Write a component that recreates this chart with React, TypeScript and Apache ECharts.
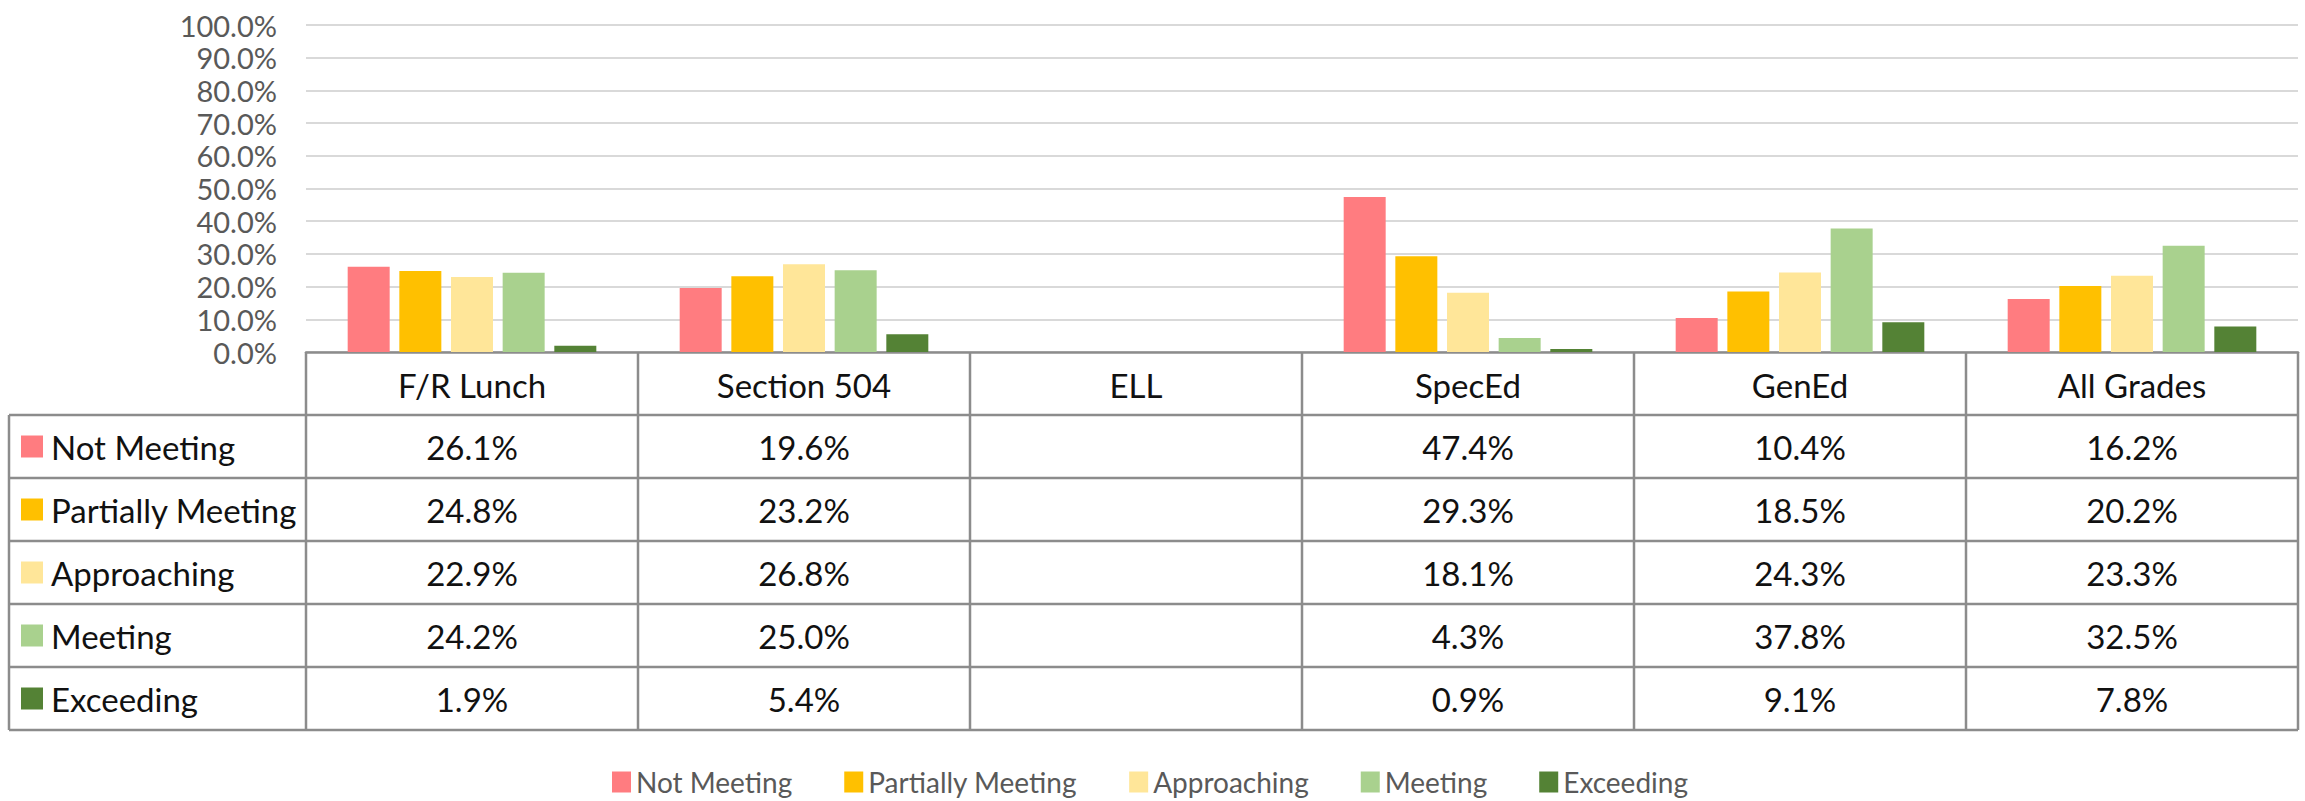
import React, { useEffect, useRef } from "react";
import * as echarts from "echarts";

const categories = ["F/R Lunch", "Section 504", "ELL", "SpecEd", "GenEd", "All Grades"];
const seriesNames = ["Not Meeting", "Partially Meeting", "Approaching", "Meeting", "Exceeding"];
const notMeeting = [26.1, 19.6, null, 47.4, 10.4, 16.2];
const partiallyMeeting = [24.8, 23.2, null, 29.3, 18.5, 20.2];
const approaching = [22.9, 26.8, null, 18.1, 24.3, 23.3];
const meeting = [24.2, 25.0, null, 4.3, 37.8, 32.5];
const exceeding = [1.9, 5.4, null, 0.9, 9.1, 7.8];
const seriesValues = [notMeeting, partiallyMeeting, approaching, meeting, exceeding];
const colors = ["#FF7C80", "#FFC000", "#FFE699", "#A9D18E", "#548235"];

const FONT = 'Lato, "Open Sans", sans-serif';
const LINE = "#8c8c8c";

export default function App() {
  const ref = useRef<HTMLDivElement>(null);
  useEffect(() => {
    if (!ref.current) return;
    const chart = echarts.init(ref.current, null, { renderer: "svg" });
    chart.setOption({
      animation: false,
      backgroundColor: "#ffffff",
      grid: { left: 306, right: 7, top: 25, bottom: 449, containLabel: false },
      legend: {
        data: seriesNames,
        left: 607,
        top: 763,
        icon: "rect",
        itemWidth: 19,
        itemHeight: 21,
        itemGap: 52,
        textStyle: { fontSize: 28, color: "#595959", fontFamily: FONT },
      },
      xAxis: {
        type: "category",
        data: categories,
        axisLine: { show: true, lineStyle: { color: LINE, width: 2.5 } },
        axisTick: { show: false },
        axisLabel: { show: false },
        splitLine: { show: false },
      },
      yAxis: {
        type: "value",
        min: 0,
        max: 100,
        interval: 10,
        axisLine: { show: false },
        axisTick: { show: false },
        splitLine: { lineStyle: { color: "#d9d9d9", width: 2 } },
        axisLabel: {
          fontSize: 29,
          color: "#595959",
          fontFamily: FONT,
          margin: 29,
          showMinLabel: true,
          showMaxLabel: true,
          hideOverlap: false,
          formatter: (v: number) => v.toFixed(1) + "%",
        },
      },
      series: seriesNames.map((name, k) => ({
        name,
        type: "bar",
        data: seriesValues[k],
        barWidth: 42,
        barGap: "23%",
        itemStyle: { color: colors[k] },
      })),
    });

    const xs = categories.map((_, i) => chart.convertToPixel({ xAxisIndex: 0 }, i) as number);
    const y0 = chart.convertToPixel({ yAxisIndex: 0 }, 0) as number;
    const band = xs[1] - xs[0];
    const leftEdge = xs[0] - band / 2;
    const rightEdge = xs[xs.length - 1] + band / 2;
    const rowH = 63;
    const tableLeft = 9;
    const headerBottom = y0 + rowH;
    const tableBottom = headerBottom + rowH * seriesNames.length;
    const els: any[] = [];
    const hline = (x1: number, x2: number, y: number) =>
      els.push({ type: "line", shape: { x1, y1: y, x2, y2: y }, style: { stroke: LINE, lineWidth: 2.5 } });
    const vline = (x: number, y1: number, y2: number) =>
      els.push({ type: "line", shape: { x1: x, y1, x2: x, y2 }, style: { stroke: LINE, lineWidth: 2.5 } });
    for (let r = 0; r <= seriesNames.length; r++) hline(tableLeft, rightEdge, headerBottom + r * rowH);
    vline(tableLeft, headerBottom, tableBottom);
    for (let i = 0; i <= categories.length; i++) vline(leftEdge + i * band, y0, tableBottom);
    const txt = (x: number, y: number, text: string, align: string) =>
      els.push({
        type: "text",
        x,
        y,
        style: {
          text,
          fill: "#111111",
          fontSize: 33,
          fontFamily: FONT,
          textAlign: align,
          textVerticalAlign: "middle",
          verticalAlign: "middle",
        },
      });
    categories.forEach((c, i) => txt(xs[i], y0 + rowH / 2 + 1, c, "center"));
    seriesNames.forEach((name, r) => {
      const cy = headerBottom + r * rowH + rowH / 2;
      els.push({ type: "rect", shape: { x: 21, y: cy - 11, width: 22, height: 22 }, style: { fill: colors[r] } });
      txt(51, cy, name, "left");
      seriesValues[r].forEach((v, i) => {
        if (v !== null && v !== undefined) txt(xs[i], cy, (v as number).toFixed(1) + "%", "center");
      });
    });
    chart.setOption({ graphic: els });
    return () => chart.dispose();
  }, []);
  return (
    <div
      ref={ref}
      style={{ position: "fixed", left: 0, top: 0, width: 2305, height: 801, background: "#fff" }}
    />
  );
}
